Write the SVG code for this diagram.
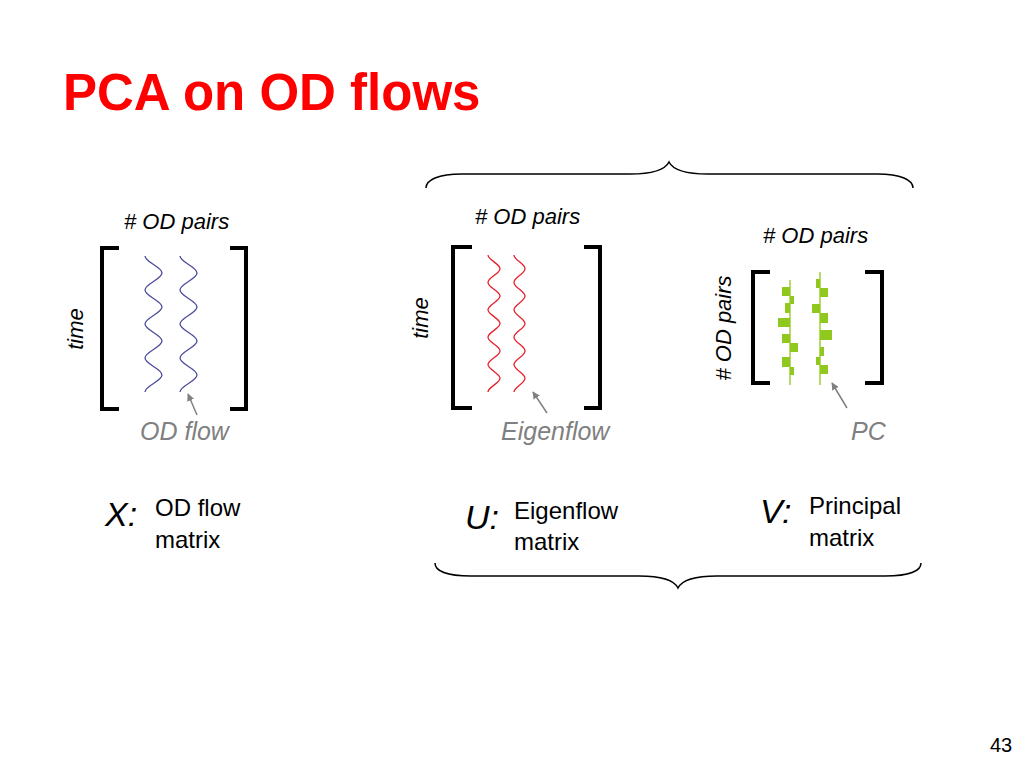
<svg xmlns="http://www.w3.org/2000/svg" width="1024" height="768" viewBox="0 0 1024 768">
<defs>
<style>
text{font-family:"Liberation Sans",Arial,sans-serif;fill:#000}
.title{font-size:51px;font-weight:bold;fill:#ff0000}
.ax{font-size:22px;font-style:italic}
.lbl{font-size:25px;font-style:italic;fill:#808080}
.var{font-size:34px;font-style:italic}
.desc{font-size:24px}
.br{fill:none;stroke:#000;stroke-width:4}
.brace{fill:none;stroke:#000;stroke-width:1.5}
.blue{fill:none;stroke:#4a4a9a;stroke-width:1.3}
.red{fill:none;stroke:#e8202a;stroke-width:1.3}
.green{fill:none;stroke:#90c81e;stroke-width:1.3}
.bar{fill:#90c81e}
.arr{stroke:#808080;stroke-width:1.5;fill:none}
</style>
<marker id="ah" viewBox="0 0 10 10" refX="9" refY="5" markerWidth="5" markerHeight="5" orient="auto" markerUnits="strokeWidth">
<path d="M0,0 L10,5 L0,10 z" fill="#808080"/>
</marker>
</defs>
<rect width="1024" height="768" fill="#fff"/>
<text class="title" x="63" y="110">PCA on OD flows</text>

<g id="matrix-X">
<text class="ax" x="124" y="229"># OD pairs</text>
<text class="ax" text-anchor="middle" transform="translate(83,329) rotate(-90)">time</text>
<path class="br" d="M119,248 H102 V409 H119"/>
<path class="br" d="M230,248 H246 V409 H230"/>
<path class="blue" d="M145,256 c0,6.2 17,10.8 17,17 s-17,10.8 -17,17 s17,10.8 17,17 s-17,10.8 -17,17 s17,10.8 17,17 s-17,10.8 -17,17 s17,10.8 17,17 s-17,10.8 -17,17"/>
<path class="blue" d="M180,256 c0,6.2 17,10.8 17,17 s-17,10.8 -17,17 s17,10.8 17,17 s-17,10.8 -17,17 s17,10.8 17,17 s-17,10.8 -17,17 s17,10.8 17,17 s-17,10.8 -17,17"/>
<text class="lbl" x="140" y="440">OD flow</text>
<text class="var" x="105" y="526">X:</text>
<text class="desc" x="155" y="516">OD flow</text>
<text class="desc" x="155" y="548">matrix</text>
</g>

<g id="matrix-U">
<text class="ax" x="475" y="224"># OD pairs</text>
<text class="ax" text-anchor="middle" transform="translate(428,318) rotate(-90)">time</text>
<path class="br" d="M472,247 H453 V408 H472"/>
<path class="br" d="M584,247 H600 V408 H584"/>
<path class="red" d="M488,255 c0,5 12,8.7 12,13.7 s-12,8.7 -12,13.7 s12,8.7 12,13.7 s-12,8.7 -12,13.7 s12,8.7 12,13.7 s-12,8.7 -12,13.7 s12,8.7 12,13.7 s-12,8.7 -12,13.7 s12,8.7 12,13.7 s-12,8.7 -12,13.7"/>
<path class="red" d="M514,255 c0,5 11,8.7 11,13.7 s-11,8.7 -11,13.7 s11,8.7 11,13.7 s-11,8.7 -11,13.7 s11,8.7 11,13.7 s-11,8.7 -11,13.7 s11,8.7 11,13.7 s-11,8.7 -11,13.7 s11,8.7 11,13.7 s-11,8.7 -11,13.7"/>
<text class="lbl" x="501" y="440">Eigenflow</text>
<text class="var" x="465" y="529">U:</text>
<text class="desc" x="514" y="519">Eigenflow</text>
<text class="desc" x="514" y="550">matrix</text>
</g>

<g id="matrix-V">
<text class="ax" x="763" y="243"># OD pairs</text>
<text class="ax" text-anchor="middle" transform="translate(731,328) rotate(-90)"># OD pairs</text>
<path class="br" d="M770,272 H753 V383 H770"/>
<path class="br" d="M865,272 H882 V383 H865"/>
<path class="green" d="M790,280 V385 M820,272 V385"/>
<g class="bar">
<rect x="782" y="287" width="8" height="9"/>
<rect x="790" y="296" width="4" height="8"/>
<rect x="785" y="303" width="5" height="10"/>
<rect x="778" y="318" width="12" height="9"/>
<rect x="782" y="334" width="8" height="9"/>
<rect x="790" y="343" width="8" height="9"/>
<rect x="782" y="357" width="8" height="10"/>
<rect x="790" y="367" width="4" height="8"/>
<rect x="816" y="279" width="4" height="9"/>
<rect x="820" y="288" width="8" height="9"/>
<rect x="812" y="304" width="8" height="9"/>
<rect x="820" y="313" width="8" height="10"/>
<rect x="820" y="330" width="12" height="10"/>
<rect x="820" y="347" width="4" height="9"/>
<rect x="816" y="357" width="4" height="8"/>
<rect x="820" y="365" width="8" height="9"/>
</g>
<text class="lbl" x="851" y="440">PC</text>
<text class="var" x="760" y="523">V:</text>
<text class="desc" x="809" y="514">Principal</text>
<text class="desc" x="809" y="546">matrix</text>
</g>

<g id="connectors">
<line class="arr" x1="197" y1="415" x2="188" y2="394" marker-end="url(#ah)"/>
<line class="arr" x1="547" y1="413" x2="533" y2="392" marker-end="url(#ah)"/>
<line class="arr" x1="847" y1="408" x2="832" y2="383" marker-end="url(#ah)"/>
<path class="brace" d="M426,188 C426,180 438,174 462,174 L630,174 C652,174 665,170 669,162 C673,170 686,174 708,174 L877,174 C901,174 913,180 913,188"/>
<path class="brace" d="M435,563 C435,571 447,576 471,576 L639,576 C661,576 674,580 678,588 C682,580 695,576 717,576 L885,576 C909,576 921,571 921,563"/>
</g>

<text x="990" y="752" style="font-size:20px">43</text>
</svg>
